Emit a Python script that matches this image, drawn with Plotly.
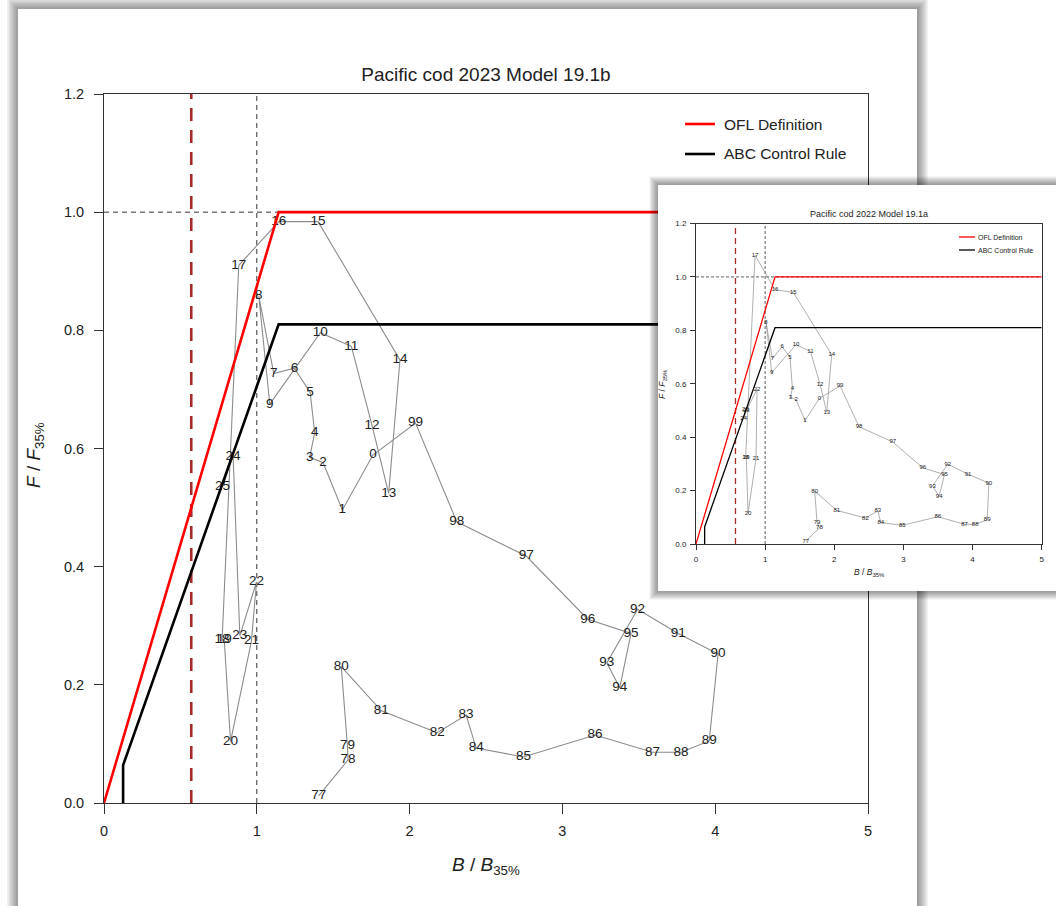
import plotly.graph_objects as go

W, H = 1056, 906
FONT = "Liberation Sans, Arial, Helvetica, sans-serif"
INK = "#222222"
AXIS = "#333333"
PATH_GREY = "#8c8c8c"
OFL_RED = "#ff0000"
ABC_BLACK = "#000000"
B20_BROWN = "#a52a2a"

# Harvest control rules on the B/B35% - F/F35% plane
ofl_b = [0.0, 1.143, 5.0]
ofl_f = [0.0, 1.0, 1.0]
abc_b = [0.125, 0.125, 1.143, 5.0]
abc_f = [0.0, 0.064, 0.81, 0.81]
b20_over_b35 = 0.571
b35_over_b35 = 1.0
f35_over_f35 = 1.0

# Year labels (1977-2025)
years = ["77", "78", "79", "80", "81", "82", "83", "84", "85", "86", "87", "88",
         "89", "90", "91", "92", "93", "94", "95", "96", "97", "98", "99",
         "0", "1", "2", "3", "4", "5", "6", "7", "8", "9", "10", "11", "12",
         "13", "14", "15", "16", "17", "18", "19", "20", "21", "22", "23",
         "24", "25"]

# Model 19.1b (2023 assessment)
b_2023 = [1.405, 1.597, 1.593, 1.553, 1.815, 2.181, 2.370, 2.436, 2.745, 3.214,
          3.590, 3.776, 3.961, 4.019, 3.758, 3.492, 3.291, 3.375, 3.449, 3.166,
          2.763, 2.309, 2.039,
          1.760, 1.560, 1.434, 1.346, 1.379, 1.349, 1.246, 1.111, 1.013, 1.085,
          1.416, 1.619, 1.754, 1.863, 1.937, 1.401, 1.144, 0.882, 0.773, 0.787,
          0.828, 0.965, 0.998, 0.889, 0.845, 0.776]
f_2023 = [0.012, 0.073, 0.097, 0.231, 0.156, 0.119, 0.149, 0.093, 0.078, 0.115,
          0.086, 0.086, 0.105, 0.252, 0.287, 0.328, 0.237, 0.195, 0.287, 0.311,
          0.418, 0.476, 0.643,
          0.589, 0.496, 0.576, 0.585, 0.627, 0.695, 0.736, 0.727, 0.858, 0.675,
          0.796, 0.773, 0.639, 0.524, 0.750, 0.984, 0.984, 0.910, 0.276, 0.276,
          0.104, 0.274, 0.374, 0.283, 0.587, 0.535]

# Model 19.1a (2022 assessment)
b_2022 = [1.588, 1.785, 1.751, 1.717, 2.036, 2.451, 2.629, 2.673, 2.985, 3.497,
          3.883, 4.038, 4.211, 4.236, 3.936, 3.642, 3.420, 3.517, 3.594, 3.280,
          2.846, 2.359, 2.084,
          1.785, 1.577, 1.447, 1.365, 1.394, 1.360, 1.245, 1.105, 1.013, 1.095,
          1.447, 1.655, 1.795, 1.891, 1.963, 1.408, 1.143, 0.854, 0.718, 0.728,
          0.753, 0.868, 0.883, 0.728, 0.690, 0.715]
f_2022 = [0.011, 0.060, 0.080, 0.198, 0.126, 0.097, 0.124, 0.080, 0.070, 0.102,
          0.074, 0.074, 0.090, 0.228, 0.261, 0.299, 0.217, 0.179, 0.260, 0.285,
          0.382, 0.439, 0.592,
          0.545, 0.462, 0.540, 0.549, 0.584, 0.699, 0.739, 0.694, 0.830, 0.642,
          0.746, 0.721, 0.597, 0.494, 0.709, 0.942, 0.952, 1.081, 0.325, 0.325,
          0.115, 0.319, 0.580, 0.499, 0.470, 0.505]

x_ticks = [0, 1, 2, 3, 4, 5]
x_tick_text = ["0", "1", "2", "3", "4", "5"]
y_ticks = [0.0, 0.2, 0.4, 0.6, 0.8, 1.0, 1.2]
y_tick_text = ["0.0", "0.2", "0.4", "0.6", "0.8", "1.0", "1.2"]
x_range = [0, 5]
y_range = [0, 1.2]


def px_x(v):
    return v / W


def px_y(v):
    return 1 - v / H


fig = go.Figure()


def add_phase_panel(xa, ya, b, f, s):
    """Reference lines, the stock trajectory and the two control rules."""
    dash_lines = [
        (x_range, [f35_over_f35] * 2, AXIS, s["thin"], s["short_dash"]),
        ([b35_over_b35] * 2, y_range, AXIS, s["thin"], s["short_dash"]),
        ([b20_over_b35] * 2, y_range, B20_BROWN, s["rule"], s["long_dash"]),
    ]
    for xs, ys, col, wd, dash in dash_lines:
        fig.add_trace(go.Scatter(x=xs, y=ys, mode="lines", xaxis=xa, yaxis=ya,
                                 line=dict(color=col, width=wd, dash=dash),
                                 hoverinfo="skip", showlegend=False))
    fig.add_trace(go.Scatter(
        x=b, y=f, mode="lines+text", text=years, textposition="middle center",
        textfont=dict(size=s["label"], color=INK, family=FONT),
        line=dict(color=PATH_GREY, width=s["path"]), xaxis=xa, yaxis=ya,
        hovertemplate="%{text}: B/B35%%=%{x:.2f}, F/F35%%=%{y:.2f}<extra></extra>",
        showlegend=False))
    fig.add_trace(go.Scatter(x=ofl_b, y=ofl_f, mode="lines", name="OFL Definition",
                             line=dict(color=OFL_RED, width=s["rule"]),
                             xaxis=xa, yaxis=ya, showlegend=False))
    fig.add_trace(go.Scatter(x=abc_b, y=abc_f, mode="lines", name="ABC Control Rule",
                             line=dict(color=ABC_BLACK, width=s["rule"]),
                             xaxis=xa, yaxis=ya, showlegend=False))


def rect_xy(l, t, r, b):
    return [l, r, r, l, l], [t, t, b, b, t]


# Main panel (Model 19.1b)
add_phase_panel("x", "y", b_2023, f_2023,
                dict(thin=1.0, rule=2.6, path=1.1, label=13.5,
                     short_dash="5px,4px", long_dash="13px,9px"))

# Card behind the 2022 panel, with a soft shadow
inset_card = (658, 185, 1075, 591)
for k in range(6, 0, -1):
    d = 1.4 * k
    xs, ys = rect_xy(inset_card[0] - d, inset_card[1] - d,
                     inset_card[2] + d, inset_card[3] + d)
    fig.add_trace(go.Scatter(x=xs, y=ys, mode="lines", fill="toself",
                             fillcolor="rgba(0,0,0,0.075)", line=dict(width=0),
                             xaxis="x2", yaxis="y2", hoverinfo="skip", showlegend=False))
xs, ys = rect_xy(*inset_card)
fig.add_trace(go.Scatter(x=xs, y=ys, mode="lines", fill="toself", fillcolor="white",
                         line=dict(width=0), xaxis="x2", yaxis="y2",
                         hoverinfo="skip", showlegend=False))

# Inset panel (Model 19.1a)
add_phase_panel("x3", "y3", b_2022, f_2022,
                dict(thin=0.8, rule=1.3, path=0.7, label=6,
                     short_dash="3px,2px", long_dash="6px,4px"))


def axis_style(domain, rng, vals, text, ticklen, size, anchor, standoff):
    return dict(domain=domain, range=rng, tickmode="array", tickvals=vals,
                ticktext=text, showline=True, mirror=True, linecolor=AXIS,
                linewidth=1, ticks="outside", ticklen=ticklen, tickwidth=1,
                tickcolor=AXIS, showgrid=False, zeroline=False, anchor=anchor,
                automargin=False, ticklabelstandoff=standoff,
                tickfont=dict(size=size, color=INK, family=FONT), fixedrange=True)


shapes = []
# Main card with shadow
main_card = (18, 9, 917, 940)
for k in range(6, 0, -1):
    d = 1.8 * k
    shapes.append(dict(type="rect", xref="paper", yref="paper", layer="below",
                       x0=px_x(main_card[0] - d), x1=px_x(main_card[2] + d),
                       y0=px_y(main_card[1] - d), y1=px_y(main_card[3] + d),
                       fillcolor="rgba(0,0,0,0.075)", line=dict(width=0)))
shapes.append(dict(type="rect", xref="paper", yref="paper", layer="below",
                   x0=px_x(main_card[0]), x1=px_x(main_card[2]),
                   y0=px_y(main_card[1]), y1=px_y(main_card[3]),
                   fillcolor="white", line=dict(width=0)))

annotations = []


def legend_block(x0, x1, xt, y_ofl, y_abc, width, size):
    for yy, col, label in [(y_ofl, OFL_RED, "OFL Definition"),
                           (y_abc, ABC_BLACK, "ABC Control Rule")]:
        shapes.append(dict(type="line", xref="paper", yref="paper", layer="above",
                           x0=px_x(x0), x1=px_x(x1), y0=px_y(yy), y1=px_y(yy),
                           line=dict(color=col, width=width)))
        annotations.append(dict(text=label, xref="paper", yref="paper",
                                x=px_x(xt), y=px_y(yy), xanchor="left",
                                yanchor="middle", showarrow=False,
                                font=dict(size=size, color=INK, family=FONT)))


legend_block(685, 715, 722, 124, 154, 2.6, 15.5)
legend_block(959, 975, 976, 237, 250, 1.3, 7)


def text_at(text, x, y, size, angle=0):
    annotations.append(dict(text=text, xref="paper", yref="paper", x=px_x(x),
                            y=px_y(y), xanchor="center", yanchor="middle",
                            showarrow=False, textangle=angle,
                            font=dict(size=size, color=INK, family=FONT)))


b_title = "<i>B</i> / <i>B</i><sub>35%</sub>"
f_title = "<i>F</i> / <i>F</i><sub>35%</sub>"
text_at(b_title, 486, 866, 19)
text_at(f_title, 35, 455, 19, -90)
text_at("Pacific cod 2022 Model 19.1a", 869, 214, 9)
text_at(b_title, 869, 572, 8.5)
text_at(f_title, 663, 384, 8.5, -90)

fig.update_layout(
    template="none",
    width=W, height=H, margin=dict(l=0, r=0, t=0, b=0, pad=0),
    paper_bgcolor="white", plot_bgcolor="rgba(0,0,0,0)", showlegend=False,
    font=dict(family=FONT, color=INK),
    title=dict(text="Pacific cod 2023 Model 19.1b", x=px_x(486), xanchor="center",
               y=px_y(74), yanchor="middle", font=dict(size=19, color=INK)),
    xaxis=axis_style([px_x(104), px_x(868)], x_range, x_ticks, x_tick_text, 10, 14.5, "y", 5),
    yaxis=axis_style([px_y(803), px_y(94)], y_range, y_ticks, y_tick_text, 9, 14.5, "x", 7),
    xaxis2=dict(domain=[0, 1], range=[0, W], visible=False, fixedrange=True, anchor="y2"),
    yaxis2=dict(domain=[0, 1], range=[H, 0], visible=False, fixedrange=True, anchor="x2"),
    xaxis3=axis_style([px_x(696), px_x(1041.7)], x_range, x_ticks, x_tick_text, 5, 8, "y3", 2),
    yaxis3=axis_style([px_y(544), px_y(223.5)], y_range, y_ticks, y_tick_text, 5, 8, "x3", 2),
    shapes=shapes, annotations=annotations,
)

fig.write_html("out.html")
